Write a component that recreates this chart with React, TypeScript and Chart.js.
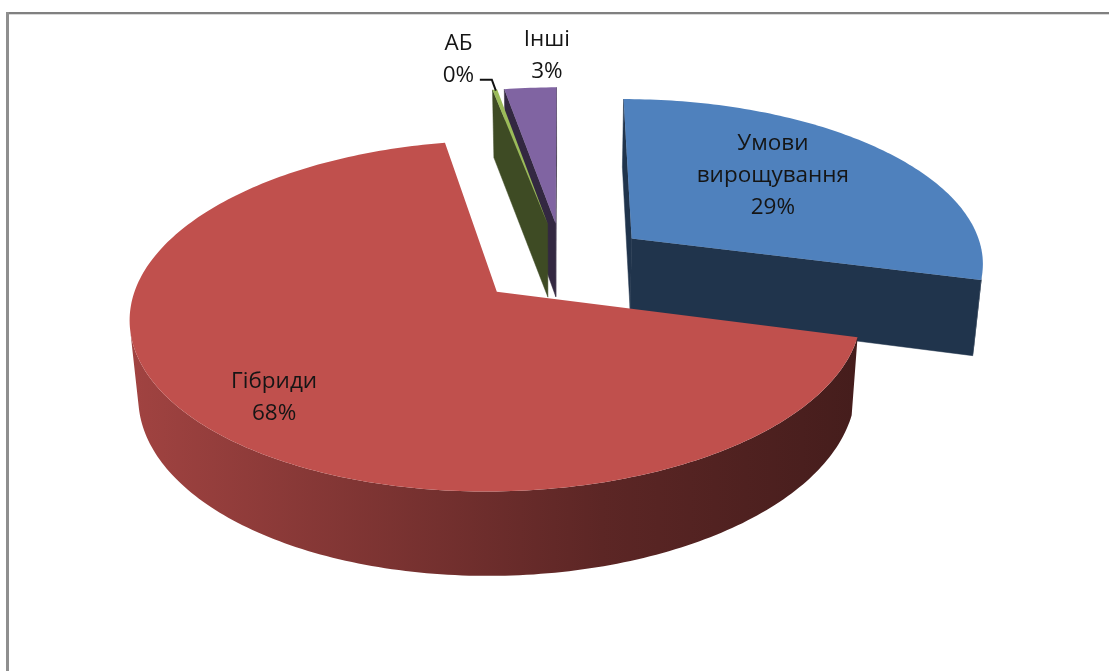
import React, { useEffect, useRef } from "react";
import { Chart, registerables } from "chart.js";

Chart.register(...registerables);

const categories = ["Умови вирощування", "Гібриди", "АБ", "Інші"];
const shares = [29.1, 67.9, 0.25, 2.75];
const sliceColors = ["#4F81BD", "#C0504D", "#9BBB59", "#8064A2"];

const EXPLOSION = 58.4;
const SCALE_X = 1.514;
const SCALE_Y = 0.703;
const PERSPECTIVE = 0.135;
const FLOOR_SHRINK = 0.98;
const DEPTH = 0.321;
const WALL_SHADE = 0.4;
const RIM_SHADE_LEFT = 0.84;
const RIM_SHADE_RIGHT = 0.36;
const DRAW_ORDER = [0, 3, 2, 1];
const LABEL_FONT = '22.5px "Open Sans", sans-serif';
const LABEL_LINE = 32;

type Pt = [number, number];

function rgb(hex: string, f: number) {
  const n = parseInt(hex.slice(1), 16);
  const c = [(n >> 16) & 255, (n >> 8) & 255, n & 255].map((v) => Math.round(v * f));
  return `rgb(${c[0]},${c[1]},${c[2]})`;
}

const pie3d = {
  id: "pie3d",
  beforeDatasetsDraw(chart: any) {
    const { ctx, width, height } = chart;
    const arcs = chart.getDatasetMeta(0).data;

    const project = (arc: any, u: number, v: number, low: boolean): Pt => {
      const R = arc.outerRadius;
      const w = 1 - PERSPECTIVE * v;
      const s = low ? FLOOR_SHRINK : 1;
      return [
        arc.x + (s * SCALE_X * R * u) / w,
        arc.y + (s * SCALE_Y * R * v + (low ? DEPTH * R * SCALE_Y * 1.42 : 0)) / w,
      ];
    };
    const origin = (arc: any) => {
      const mid = (arc.startAngle + arc.endAngle) / 2;
      const d = arc.options.offset / arc.outerRadius;
      return { ou: d * Math.cos(mid), ov: d * Math.sin(mid), mid };
    };
    const rimPoint = (arc: any, a: number, f = 1): [number, number] => {
      const { ou, ov } = origin(arc);
      return [ou + f * Math.cos(a), ov + f * Math.sin(a)];
    };
    const poly = (pts: Pt[]) => {
      ctx.beginPath();
      pts.forEach((p, i) => (i ? ctx.lineTo(p[0], p[1]) : ctx.moveTo(p[0], p[1])));
      ctx.closePath();
    };
    const area = (pts: Pt[]) => {
      let s = 0;
      pts.forEach((p, i) => {
        const q = pts[(i + 1) % pts.length];
        s += p[0] * q[1] - q[0] * p[1];
      });
      return s / 2;
    };

    ctx.save();
    // frame of the pasted picture
    ctx.fillStyle = "#808080";
    ctx.fillRect(6, 12, width - 6, 2);
    ctx.fillStyle = "#d9d9d9";
    ctx.fillRect(9, 14, width - 9, 1);
    ctx.fillStyle = "#8f8f8f";
    ctx.fillRect(6, 12, 3, height - 12);

    DRAW_ORDER.forEach((idx) => {
      const arc = arcs[idx];
      const base = arc.options.backgroundColor;
      const { ou, ov } = origin(arc);
      const steps = Math.max(2, Math.ceil(((arc.endAngle - arc.startAngle) * 180) / Math.PI));
      const rim: [number, number][] = [];
      for (let i = 0; i <= steps; i++) {
        rim.push(rimPoint(arc, arc.startAngle + ((arc.endAngle - arc.startAngle) * i) / steps));
      }
      const topRim = rim.map((p) => project(arc, p[0], p[1], false));
      const lowRim = rim.map((p) => project(arc, p[0], p[1], true));
      const apexTop = project(arc, ou, ov, false);
      const apexLow = project(arc, ou, ov, true);

      // radial walls
      const wall = rgb(base, WALL_SHADE);
      const walls: Pt[][] = [
        [apexTop, topRim[0], lowRim[0], apexLow],
        [topRim[steps], apexTop, apexLow, lowRim[steps]],
      ];
      walls.forEach((q) => {
        if (area(q) < 0) {
          poly(q);
          ctx.fillStyle = wall;
          ctx.strokeStyle = wall;
          ctx.lineWidth = 0.5;
          ctx.fill();
          ctx.stroke();
        }
      });

      // outer wall: one polygon per run of steps that face the viewer
      const xs = topRim.concat(lowRim).map((p) => p[0]);
      const grad = ctx.createLinearGradient(Math.min(...xs), 0, Math.max(...xs), 0);
      grad.addColorStop(0, rgb(base, RIM_SHADE_LEFT));
      grad.addColorStop(0.65, rgb(base, 0.48));
      grad.addColorStop(1, rgb(base, RIM_SHADE_RIGHT));
      let runStart = -1;
      const flush = (end: number) => {
        if (runStart < 0) return;
        const upper = topRim.slice(runStart, end + 1);
        const lower = lowRim.slice(runStart, end + 1).reverse();
        poly([...upper, ...lower]);
        ctx.fillStyle = grad;
        ctx.fill();
        runStart = -1;
      };
      for (let i = 0; i < steps; i++) {
        const q: Pt[] = [topRim[i], topRim[i + 1], lowRim[i + 1], lowRim[i]];
        if (area(q) < 0) {
          if (runStart < 0) runStart = i;
        } else {
          flush(i);
        }
      }
      flush(steps);

      // upper face
      poly([apexTop, ...topRim]);
      ctx.fillStyle = base;
      ctx.fill();
    });

    // labels
    const placing = [
      { f: 0.65, dx: -25, dy: -3 },
      { f: 0.65, dx: -35, dy: 25 },
      { f: 1.25, dx: -25, dy: -1 },
      { f: 1.25, dx: 22, dy: -3 },
    ];
    const labelLines = [["Умови", "вирощування"], ["Гібриди"], ["АБ"], ["Інші"]];
    ctx.font = LABEL_FONT;
    ctx.fillStyle = "#151515";
    ctx.textAlign = "center";
    ctx.textBaseline = "middle";
    arcs.forEach((arc: any, i: number) => {
      const { mid } = origin(arc);
      const p = rimPoint(arc, mid, placing[i].f);
      const [ax, ay] = project(arc, p[0], p[1], false);
      const lines = [...labelLines[i], `${Math.round(shares[i])}%`];
      const cx = ax + placing[i].dx;
      const cy = ay + placing[i].dy;
      lines.forEach((t, j) => {
        ctx.fillText(t, cx, cy + (j - (lines.length - 1) / 2) * LABEL_LINE);
      });
    });

    // leader line of the smallest slice
    const tiny = arcs[2];
    const tp = rimPoint(tiny, origin(tiny).mid, 1);
    const [lx, ly] = project(tiny, tp[0], tp[1], false);
    ctx.strokeStyle = "#111";
    ctx.lineWidth = 2;
    ctx.beginPath();
    ctx.moveTo(lx + 1, ly + 1);
    ctx.lineTo(lx - 3, ly - 10);
    ctx.lineTo(lx - 15, ly - 10);
    ctx.stroke();

    ctx.restore();
    return false;
  },
};

export default function App() {
  const ref = useRef<HTMLCanvasElement>(null);
  useEffect(() => {
    const chart = new Chart(ref.current!, {
      type: "pie",
      data: {
        labels: categories,
        datasets: [
          {
            data: shares,
            backgroundColor: sliceColors,
            borderWidth: 0,
            offset: EXPLOSION,
          },
        ],
      },
      options: {
        responsive: false,
        animation: false,
        devicePixelRatio: 1,
        layout: { padding: { left: 17, right: 0, top: 0, bottom: 145 } },
        plugins: { legend: { display: false }, tooltip: { enabled: false }, title: { display: false } },
      },
      plugins: [pie3d],
    } as any);
    return () => chart.destroy();
  }, []);
  return (
    <div style={{ position: "fixed", left: 0, top: 0, width: 1109, height: 671, background: "#fff", overflow: "hidden" }}>
      <canvas ref={ref} width={1109} height={671} style={{ display: "block", filter: "blur(0.7px)" }} />
    </div>
  );
}
